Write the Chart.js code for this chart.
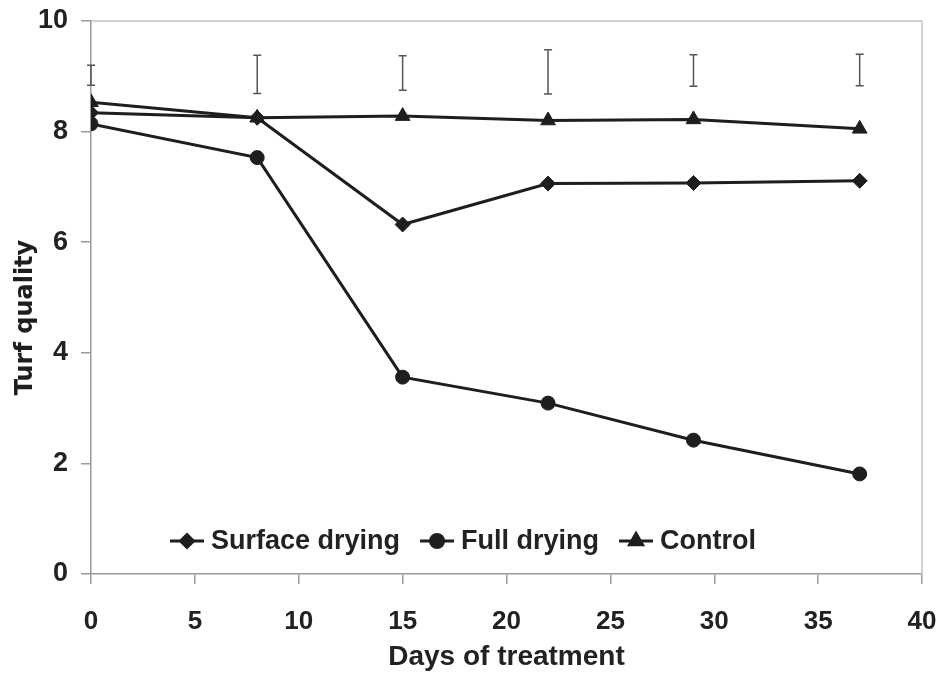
<!DOCTYPE html>
<html>
<head>
<meta charset="utf-8">
<script src="https://cdn.jsdelivr.net/npm/chart.js@4/dist/chart.umd.min.js"></script>
<style>
  html, body { margin: 0; padding: 0; background: #fff; }
  #wrap { width: 942px; height: 680px; }
</style>
</head>
<body>
<div id="wrap"><canvas id="c" width="942" height="680"></canvas></div>
<script>
// ---- data ----
const days = [0, 8, 15, 22, 29, 37];
const surfaceDrying = [8.34, 8.25, 6.32, 7.06, 7.07, 7.11];
const fullDrying = [8.14, 7.53, 3.56, 3.09, 2.42, 1.81];
const control = [8.53, 8.25, 8.28, 8.2, 8.22, 8.05];
const errLow = [8.84, 8.69, 8.75, 8.68, 8.82, 8.83];
const errHigh = [9.2, 9.38, 9.37, 9.48, 9.39, 9.4];
const seriesNames = ['Surface drying', 'Full drying', 'Control'];
const xTitle = 'Days of treatment';
const yTitle = 'Turf quality';

const INK = '#1e1e1e';
const AXIS = '#9a9a9a';

function pts(vals) { return days.map((d, i) => ({ x: d, y: vals[i] })); }

const errorBarPlugin = {
  id: 'errorBars',
  afterDatasetsDraw(chart) {
    const { ctx, scales: { x, y } } = chart;
    ctx.save();
    ctx.strokeStyle = '#555';
    ctx.lineWidth = 1.5;
    days.forEach((d, i) => {
      const px = x.getPixelForValue(d);
      const y1 = y.getPixelForValue(errLow[i]);
      const y2 = y.getPixelForValue(errHigh[i]);
      ctx.beginPath();
      ctx.moveTo(px, y1); ctx.lineTo(px, y2);
      ctx.moveTo(px - 4, y1); ctx.lineTo(px + 4, y1);
      ctx.moveTo(px - 4, y2); ctx.lineTo(px + 4, y2);
      ctx.stroke();
    });
    ctx.restore();
  }
};

const framePlugin = {
  id: 'frame',
  beforeDatasetsDraw(chart) {
    const { ctx, chartArea: a } = chart;
    ctx.save();
    ctx.strokeStyle = '#c4c4c4';
    ctx.lineWidth = 1.5;
    ctx.beginPath();
    ctx.moveTo(a.left, a.top); ctx.lineTo(a.right, a.top); ctx.lineTo(a.right, a.bottom);
    ctx.stroke();
    ctx.restore();
  }
};

const yTitlePlugin = {
  id: 'yTitle',
  afterDraw(chart) {
    const { ctx, chartArea: a } = chart;
    ctx.save();
    ctx.translate(26, (a.top + a.bottom) / 2 + 20);
    ctx.rotate(-Math.PI / 2);
    ctx.font = 'bold 24px "DejaVu Sans"';
    ctx.fillStyle = INK;
    ctx.textAlign = 'center';
    ctx.textBaseline = 'middle';
    ctx.fillText(yTitle, 0, 0);
    ctx.restore();
  }
};

const inLegendPlugin = {
  id: 'inLegend',
  afterDatasetsDraw(chart) {
    const { ctx, chartArea: a } = chart;
    ctx.save();
    ctx.font = 'bold 27px "Liberation Sans", Arial, sans-serif';
    ctx.textBaseline = 'middle';
    ctx.textAlign = 'left';
    let x = a.left + 79;
    const y = a.bottom - 33;
    chart.data.datasets.forEach(ds => {
      ctx.strokeStyle = INK;
      ctx.lineWidth = 3;
      ctx.beginPath();
      ctx.moveTo(x, y); ctx.lineTo(x + 34, y);
      ctx.stroke();
      ctx.fillStyle = INK;
      Chart.helpers.drawPoint(ctx, { pointStyle: ds.pointStyle, radius: ds.pointStyle === 'triangle' ? 7.5 : 6.5, rotation: 0, borderWidth: 1 }, x + 17, y);
      ctx.fillStyle = '#222';
      ctx.fillText(ds.label, x + 41, y + 1);
      x += 41 + ctx.measureText(ds.label).width + 20;
    });
    ctx.restore();
  }
};

const common = {
  borderColor: INK, backgroundColor: INK, pointBackgroundColor: INK, pointBorderColor: INK,
  borderWidth: 3, pointBorderWidth: 1, tension: 0, fill: false
};

new Chart(document.getElementById('c'), {
  type: 'line',
  data: {
    datasets: [
      { ...common, label: seriesNames[0], data: pts(surfaceDrying), pointStyle: 'rectRot', pointRadius: 7.5 },
      { ...common, label: seriesNames[1], data: pts(fullDrying), pointStyle: 'circle', pointRadius: 7 },
      { ...common, label: seriesNames[2], data: pts(control), pointStyle: 'triangle', pointRadius: 8.5 }
    ]
  },
  options: {
    responsive: false,
    animation: false,
    devicePixelRatio: 1,
    layout: { padding: { left: 0, top: 21, right: 20, bottom: 3 } },
    plugins: { legend: { display: false }, tooltip: { enabled: false } },
    scales: {
      x: {
        type: 'linear', min: 0, max: 40,
        ticks: { stepSize: 5, color: '#222', padding: 22, font: { family: '"Liberation Sans", Arial, sans-serif', weight: 'bold', size: 26 } },
        grid: { drawOnChartArea: false, drawTicks: true, tickLength: 10, color: AXIS, lineWidth: 1.5 },
        border: { display: true, color: AXIS, width: 1.5 },
        title: { display: true, text: xTitle, color: '#222', padding: { top: 0, bottom: 3 }, font: { family: '"Liberation Sans", Arial, sans-serif', weight: 'bold', size: 28 } },
        afterFit(s) { s.height = 103; s.paddingLeft = 0; s.paddingRight = 0; }
      },
      y: {
        type: 'linear', min: 0, max: 10,
        ticks: { stepSize: 2, color: '#222', padding: 13, font: { family: '"Liberation Sans", Arial, sans-serif', weight: 'bold', size: 27 } },
        grid: { drawOnChartArea: false, drawTicks: true, tickLength: 10, color: AXIS, lineWidth: 1.5 },
        border: { display: true, color: AXIS, width: 1.5 },
        afterFit(s) { s.width = 91; s.paddingTop = 0; s.paddingBottom = 0; }
      }
    }
  },
  plugins: [framePlugin, errorBarPlugin, inLegendPlugin, yTitlePlugin]
});
</script>
</body>
</html>
